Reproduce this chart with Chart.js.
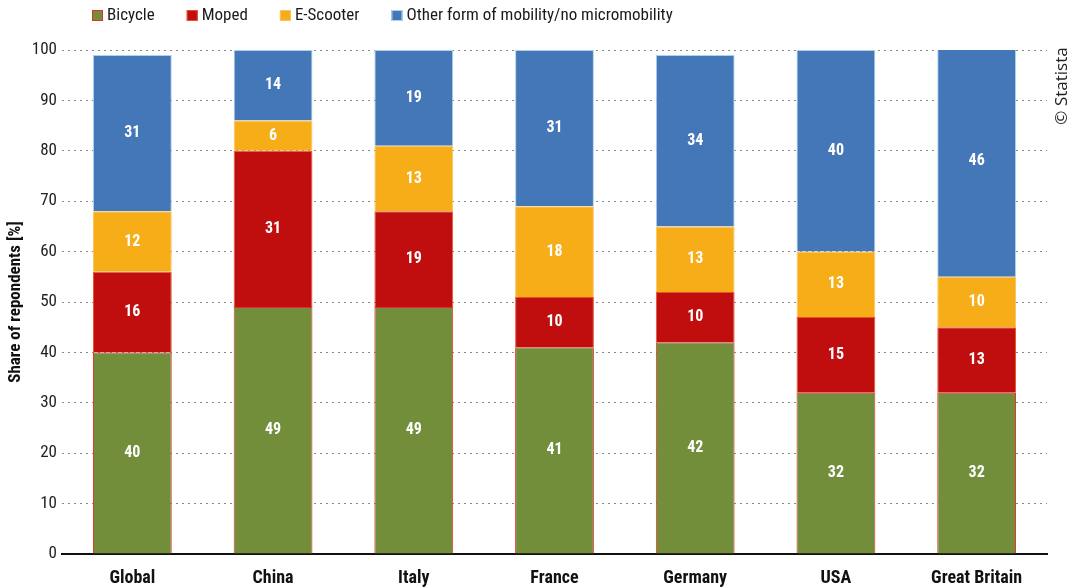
<!DOCTYPE html>
<html><head><meta charset="utf-8">
<script src="https://cdn.jsdelivr.net/npm/chart.js@4"></script>
<style>html,body{margin:0;padding:0;background:#fff}#wrap{width:1072px;height:588px;position:relative}</style>
</head><body><div id="wrap"><canvas id="c" width="1072" height="588"></canvas></div>
<script>
const categories = ['Global','China','Italy','France','Germany','USA','Great Britain'];
const bicycle = [40,49,49,41,42,32,32];
const moped = [16,31,19,10,10,15,13];
const eScooter = [12,6,13,18,13,13,10];
const other = [31,14,19,31,34,40,46];
const seriesNames = ['Bicycle','Moped','E-Scooter','Other form of mobility/no micromobility'];
const yTicks = [0,10,20,30,40,50,60,70,80,90,100];

const FONT = "'Roboto Condensed','DejaVu Sans Condensed',sans-serif";

const labelPlugin = {
  id: 'vals',
  afterDatasetsDraw(chart) {
    const ctx = chart.ctx;
    ctx.save();
    ctx.font = 'bold 16px ' + FONT;
    ctx.fillStyle = '#fff';
    ctx.textAlign = 'center';
    ctx.textBaseline = 'middle';
    chart.data.datasets.forEach((ds, i) => {
      const meta = chart.getDatasetMeta(i);
      meta.data.forEach((el, j) => {
        const y = (el.y + el.base) / 2;
        ctx.fillText(String(ds.data[j]), el.x, Math.max(y, chart.chartArea.top + 10));
      });
    });
    ctx.restore();
  }
};

const legendPlugin = {
  id: 'customLegend',
  afterDraw(chart) {
    const ctx = chart.ctx;
    ctx.save();
    ctx.font = '17px ' + FONT;
    ctx.textBaseline = 'middle';
    let x = 92; const y = 15;
    chart.data.datasets.forEach(ds => {
      ctx.fillStyle = ds.backgroundColor;
      ctx.fillRect(x, y - 5, 11, 11);
      ctx.strokeStyle = ds.borderColor;
      ctx.lineWidth = 1;
      ctx.strokeRect(x + 0.5, y - 4.5, 10, 10);
      ctx.fillStyle = '#1a1a1a';
      ctx.textAlign = 'left';
      ctx.fillText(ds.label, x + 15, y + 1);
      x += 15 + ctx.measureText(ds.label).width + 32;
    });
    // watermark
    ctx.translate(1062, 86);
    ctx.rotate(-Math.PI / 2);
    ctx.font = "17px 'Open Sans','Liberation Sans',sans-serif";
    ctx.fillStyle = '#222';
    ctx.textAlign = 'center';
    ctx.textBaseline = 'middle';
    ctx.fillText('\u00A9 Statista', 0, 0);
    ctx.restore();
  }
};

new Chart(document.getElementById('c'), {
  type: 'bar',
  data: {
    labels: categories,
    datasets: [
      {label: seriesNames[0], data: bicycle, backgroundColor: '#728e3a', borderColor: '#e2312b', borderWidth: 1},
      {label: seriesNames[1], data: moped, backgroundColor: '#c00d0e', borderColor: '#e8542a', borderWidth: 1},
      {label: seriesNames[2], data: eScooter, backgroundColor: '#f6ad17', borderColor: '#f8c460', borderWidth: 1},
      {label: seriesNames[3], data: other, backgroundColor: '#4477b7', borderColor: '#a9d3ea', borderWidth: 1}
    ]
  },
  options: {
    responsive: false,
    animation: false,
    devicePixelRatio: 1,
    datasets: {bar: {barPercentage: 0.56, categoryPercentage: 1}},
    layout: {padding: {top: 50, right: 25, left: 0, bottom: 0}},
    plugins: {legend: {display: false}, tooltip: {enabled: false}},
    scales: {
      x: {
        stacked: true,
        grid: {display: false},
        border: {display: true, color: '#111', width: 2},
        ticks: {color: '#111', font: {family: FONT, size: 18, weight: 'bold'}, padding: 6, maxRotation: 0},
        afterFit(s) { s.height = 34; }
      },
      y: {
        stacked: true,
        min: 0, max: 100,
        afterBuildTicks(s) { s.ticks = yTicks.map(v => ({value: v})); },
        grid: {color: '#888', lineWidth: 1, drawTicks: false},
        border: {display: false, dash: [2, 4]},
        ticks: {color: '#222', font: {family: FONT, size: 17}, padding: 5},
        title: {display: true, text: 'Share of repondents [%]', color: '#111', font: {family: FONT, size: 17, weight: 'bold'}, padding: {top: 6, bottom: 0}},
        afterFit(s) { s.width = 62; }
      }
    }
  },
  plugins: [labelPlugin, legendPlugin]
});
</script></body></html>
